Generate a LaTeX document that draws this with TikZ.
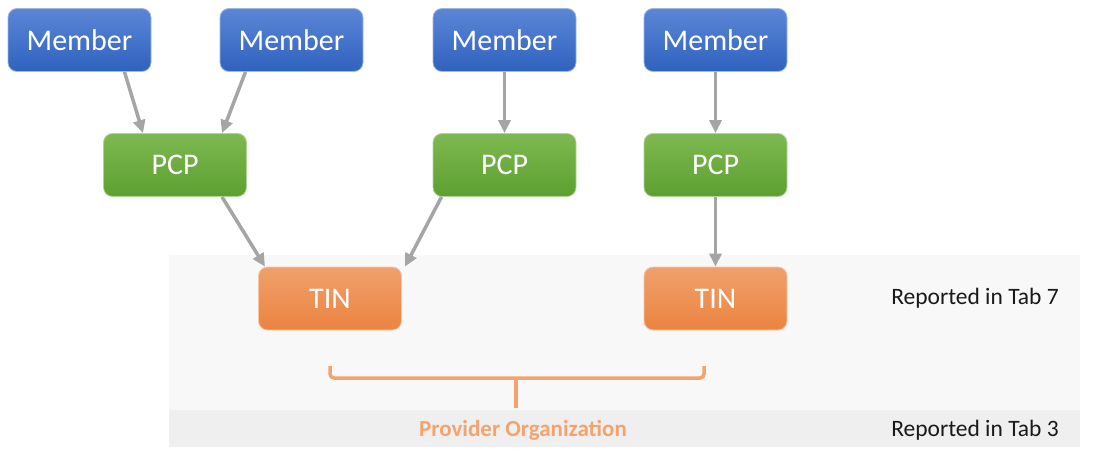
\documentclass[tikz,border=0pt]{standalone}
\usepackage{fontspec}
\setmainfont{Carlito}
\usetikzlibrary{arrows.meta,positioning}

\definecolor{memtop}{HTML}{5B86D6}
\definecolor{membot}{HTML}{2F62BF}
\definecolor{pcptop}{HTML}{7DB950}
\definecolor{pcpbot}{HTML}{5E9F31}
\definecolor{tintop}{HTML}{F0A06C}
\definecolor{tinbot}{HTML}{EB8440}
\definecolor{arrgray}{HTML}{A5A5A5}
\definecolor{braceor}{HTML}{F3A46E}
\definecolor{bandlight}{HTML}{F8F8F8}
\definecolor{banddark}{HTML}{EFEFEF}

\begin{document}
\begin{tikzpicture}[x=1pt, y=-1pt,
		basic/.style  = {rectangle, rounded corners=9pt, minimum width=143pt, minimum height=63pt, inner sep=0pt, text=white, font=\fontsize{30}{36}\selectfont, line width=0.8pt},
		memberbox/.style = {basic, top color=memtop, bottom color=membot, draw=memtop!60!white},
		pcpbox/.style = {basic, top color=pcptop, bottom color=pcpbot, draw=pcptop!60!white},
		tinbox/.style = {basic, top color=tintop, bottom color=tinbot, draw=tintop!60!white},
		tablabel/.style = {text=black!90, font=\fontsize{23.5}{28}\selectfont},
		link/.style = {-{Triangle[length=13pt,width=12pt]}, draw=arrgray, line width=3.5pt},
		>=latex]

		\useasboundingbox (0,0) rectangle (1107,449);

		% reporting bands behind the TIN row
		\fill[bandlight] (169,255) rectangle (1080,410);
		\fill[banddark] (169,410) rectangle (1080,447);

		% members, top row
		\node[memberbox] (m1) at (79.5,40) {Member};
		\node[memberbox] (m2) at (291.5,40) {Member};
		\node[memberbox] (m3) at (504.5,40) {Member};
		\node[memberbox] (m4) at (715.5,40) {Member};

		% PCP row
		\node[pcpbox] (p1) at (175,165) {PCP};
		\node[pcpbox] (p2) at (504.5,165) {PCP};
		\node[pcpbox] (p3) at (715.5,165) {PCP};

		% TIN row
		\node[tinbox] (t1) at (330,298.5) {TIN};
		\node[tinbox] (t2) at (715.5,298.5) {TIN};

		% labels on the right
		\node[tablabel] (tab7) at (975,298) {Reported in Tab 7};
		\node[tablabel] (tab3) at (975,430) {Reported in Tab 3};
		\node[text=braceor, font=\bfseries\fontsize{23}{27}\selectfont] (org) at (523,430) {Provider Organization};

		% member -> PCP
		\draw[link] ([xshift=45pt]m1.south) -- ([xshift=-32pt]p1.north);
		\draw[link] ([xshift=-46pt]m2.south) -- ([xshift=47pt]p1.north);
		\draw[link] (m3.south) -- (p2.north);
		\draw[link] (m4.south) -- (p3.north);

		% PCP -> TIN
		\draw[link] ([xshift=47pt]p1.south) -- ([xshift=-65pt]t1.north);
		\draw[link] ([xshift=-63pt]p2.south) -- ([xshift=75pt]t1.north);
		\draw[link] (p3.south) -- (t2.north);

		% brace grouping both TINs
		\coordinate (bl) at (330,366);
		\coordinate (br) at (704,366);
		\coordinate (bm) at (516,378);
		\coordinate (bs) at (516,408);
		\draw[braceor, line width=3.5pt, rounded corners=4pt] (bl) |- (bm) -| (br);
		\draw[braceor, line width=3.5pt] (bm) -- (bs);

	\end{tikzpicture}
\end{document}
